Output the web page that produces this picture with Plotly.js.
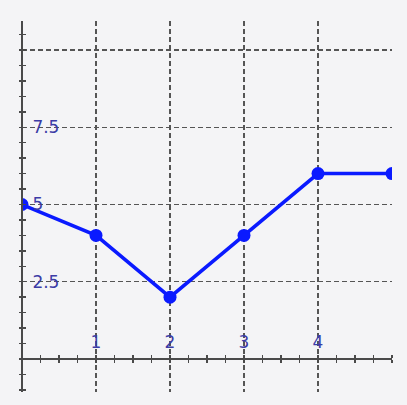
<!DOCTYPE html>
<html>
<head>
<meta charset="utf-8">
<script src="https://cdn.plot.ly/plotly-3.0.1.min.js"></script>
<style>html,body{margin:0;padding:0;background:#f4f4f6;}#chart{width:407px;height:405px;}</style>
</head>
<body>
<div id="chart"></div>
<script>
const xValues = [0, 1, 2, 3, 4, 5];
const yValues = [5, 4, 2, 4, 6, 6];
const xTickVals = [1, 2, 3, 4];
const xTickText = ['1', '2', '3', '4'];
const yTickVals = [2.5, 5, 7.5];
const yTickText = ['2.5', '5', '7.5'];

const xRange = [0, 5];
const yRange = [-1.07, 10.94];
const zeroPos = (0 - yRange[0]) / (yRange[1] - yRange[0]);

const gridColor = '#555555';
const axisColor = '#4a4a4a';
const labelFont = {family: 'DejaVu Sans, Verdana, sans-serif', size: 17, color: '#3c3ca6'};
const tickLen = 3;

const trace = {
  x: xValues, y: yValues, type: 'scatter', mode: 'lines+markers',
  line: {color: '#0a1aff', width: 3.5},
  marker: {color: '#0a1aff', size: 13},
  cliponaxis: true, hoverinfo: 'none', showlegend: false
};

const minorX = {dtick: 0.25, tick0: 0, ticks: 'outside', ticklen: tickLen, tickwidth: 1.5, tickcolor: axisColor, showgrid: false};
const minorY = {dtick: 0.5, tick0: 0, ticks: 'outside', ticklen: tickLen, tickwidth: 1.5, tickcolor: axisColor, showgrid: false};

const layout = {
  width: 407, height: 405,
  margin: {l: 22, r: 15, t: 21, b: 13, pad: 0},
  paper_bgcolor: '#f4f4f6', plot_bgcolor: '#f4f4f6',
  showlegend: false,
  xaxis: {
    range: xRange, anchor: 'free', position: zeroPos, side: 'top',
    tickmode: 'array', tickvals: xTickVals, ticktext: xTickText,
    tickfont: labelFont, ticks: 'outside', ticklen: tickLen, tickwidth: 1.5, tickcolor: axisColor,
    ticklabelstandoff: 0,
    showline: true, linecolor: axisColor, linewidth: 2,
    showgrid: false, zeroline: false,
    minor: minorX
  },
  xaxis2: {
    range: xRange, overlaying: 'x', anchor: 'free', position: zeroPos, side: 'bottom',
    tickmode: 'linear', tick0: 0, dtick: 1, showticklabels: false,
    ticks: 'outside', ticklen: tickLen, tickwidth: 1.5, tickcolor: axisColor,
    showline: false, zeroline: false,
    showgrid: true, gridcolor: gridColor, gridwidth: 1.5, griddash: '5px,3px',
    minor: minorX
  },
  yaxis: {
    range: yRange, anchor: 'free', position: 0, side: 'right',
    tickmode: 'array', tickvals: yTickVals, ticktext: yTickText,
    tickfont: labelFont, ticks: 'outside', ticklen: tickLen, tickwidth: 1.5, tickcolor: axisColor,
    ticklabelstandoff: 3,
    showline: true, linecolor: axisColor, linewidth: 2,
    showgrid: false, zeroline: false,
    minor: minorY
  },
  yaxis2: {
    range: yRange, overlaying: 'y', anchor: 'free', position: 0, side: 'left',
    tickmode: 'linear', tick0: 0, dtick: 2.5, showticklabels: false,
    ticks: 'outside', ticklen: tickLen, tickwidth: 1.5, tickcolor: axisColor,
    showline: false, zeroline: false,
    showgrid: true, gridcolor: gridColor, gridwidth: 1.5, griddash: '5px,3px',
    minor: minorY
  }
};

const gridTrace = {x: [null], y: [null], xaxis: 'x2', yaxis: 'y2', type: 'scatter', mode: 'lines', showlegend: false, hoverinfo: 'none'};

Plotly.newPlot('chart', [gridTrace, trace], layout, {staticPlot: true, displayModeBar: false});
</script>
</body>
</html>
